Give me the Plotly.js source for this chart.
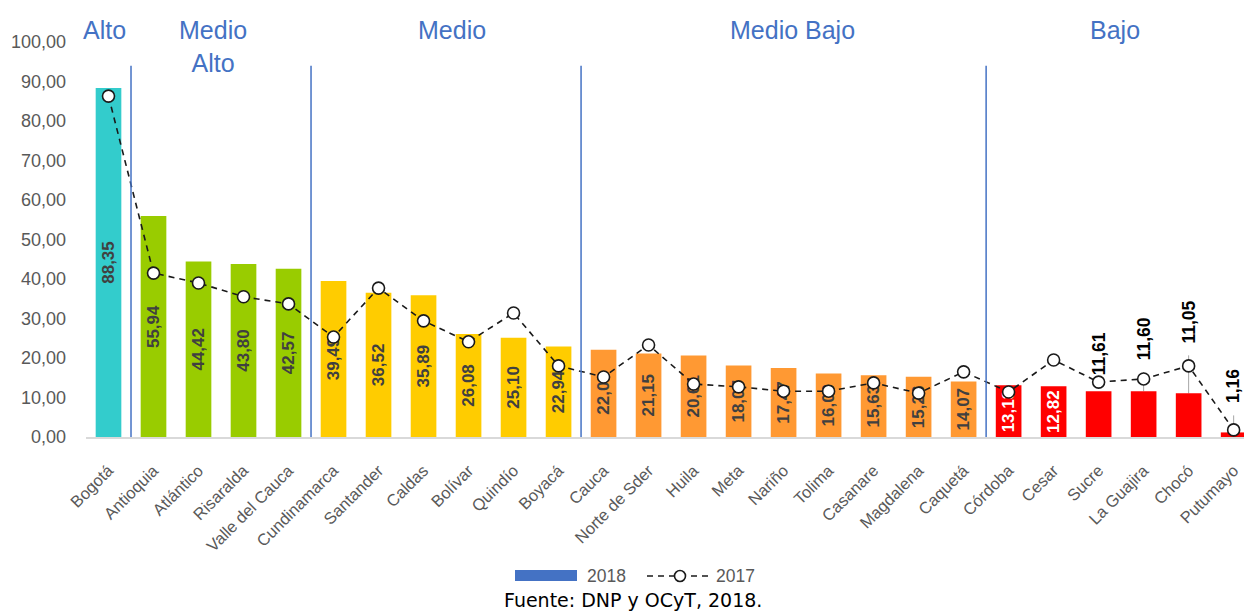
<!DOCTYPE html>
<html><head><meta charset="utf-8">
<script src="https://cdn.plot.ly/plotly-3.0.1.min.js"></script>
<style>html,body{margin:0;padding:0;background:#fff}#chart{width:1244px;height:613px}</style>
</head><body><div id="chart"></div>
<script>
const departamentos = ['Bogotá','Antioquia','Atlántico','Risaralda','Valle del Cauca','Cundinamarca','Santander','Caldas','Bolívar','Quindío','Boyacá','Cauca','Norte de Sder','Huila','Meta','Nariño','Tolima','Casanare','Magdalena','Caquetá','Córdoba','Cesar','Sucre','La Guajira','Chocó','Putumayo'];
const valores2018 = [88.35,55.94,44.42,43.80,42.57,39.49,36.52,35.89,26.08,25.10,22.94,22.06,21.15,20.61,18.07,17.47,16.09,15.63,15.26,14.07,13.13,12.82,11.61,11.60,11.05,1.16];
const valores2017 = [86.3,41.5,39.0,35.5,33.7,25.3,37.7,29.4,24.1,31.4,18.0,15.2,23.3,13.4,12.7,11.6,11.6,13.7,11.1,16.5,11.4,19.5,13.9,14.7,18.0,1.8];
const nivel = ['Alto','Medio Alto','Medio Alto','Medio Alto','Medio Alto','Medio','Medio','Medio','Medio','Medio','Medio','Medio Bajo','Medio Bajo','Medio Bajo','Medio Bajo','Medio Bajo','Medio Bajo','Medio Bajo','Medio Bajo','Medio Bajo','Bajo','Bajo','Bajo','Bajo','Bajo','Bajo'];
const nivelEtiquetas = ['Alto','Medio<br>Alto','Medio','Medio Bajo','Bajo'];
const fuente = 'Fuente: DNP y OCyT, 2018.';

const colorNivel = {'Alto':'#33CCCC','Medio Alto':'#99CC00','Medio':'#FFCC00','Medio Bajo':'#FF9933','Bajo':'#FF0000'};
const SANS = '"Liberation Sans", Arial, sans-serif';
const fmt = v => v.toFixed(2).replace('.', ',');

const outsideIdx = [22,23,24,25];
const outsideShift = [14,29,48,27];
const leader = [false,true,true,true];

const idx = departamentos.map((d,i)=>i);
const barTextPos = idx.map(i => outsideIdx.includes(i) ? 'none' : 'inside');
const barTextColor = idx.map(i => nivel[i]==='Bajo' ? '#FFFFFF' : '#404040');

const bars = {
  type:'bar', x: departamentos, y: valores2018, name:'2018',
  marker:{color: nivel.map(n=>colorNivel[n])},
  width: 0.57,
  texttemplate:'%{y:.2f}', textposition: barTextPos, textangle:-90,
  insidetextanchor:'middle', constraintext:'none', cliponaxis:false,
  textfont:{family:SANS, size:17, color: barTextColor, weight:'bold'},
  hoverinfo:'x+y', showlegend:false
};
const line = {
  type:'scatter', mode:'lines+markers', x: departamentos, y: valores2017, name:'2017',
  line:{color:'#1a1a1a', width:1.6, dash:'6px,5px'},
  marker:{size:12, color:'#FFFFFF', line:{color:'#1a1a1a', width:1.6}},
  cliponaxis:false, showlegend:false
};

const sepPos = [];
for (let i=1;i<nivel.length;i++) if (nivel[i]!==nivel[i-1]) sepPos.push(i-0.5);
const shapes = sepPos.map(p => ({type:'line', xref:'x', yref:'y', x0:p, x1:p, y0:-0.8, y1:94,
  line:{color:'#4472C4', width:1.5}}));

outsideIdx.forEach((i,k)=>{
  if (!leader[k]) return;
  shapes.push({type:'line', xref:'x', yref:'y', ysizemode:'pixel', yanchor: valores2018[i],
    x0:i, x1:i, y0:0, y1: outsideShift[k]-10, layer:'below', line:{color:'#A6A6A6', width:1}});
});

const groupX = [-0.08, 2.33, 7.63, 15.19, 22.37];
const annotations = nivelEtiquetas.map((t,k)=>({
  x: groupX[k], xref:'x', y:1.071, yref:'paper', yanchor:'top', xanchor:'center',
  text:t, showarrow:false, font:{family:SANS, size:25, color:'#4472C4'}
}));
outsideIdx.forEach((i,k)=>{
  annotations.push({x:i, xref:'x', y: valores2018[i], yref:'y', yanchor:'bottom', xanchor:'center',
    yshift: outsideShift[k], text: fmt(valores2018[i]), textangle:-90, showarrow:false,
    font:{family:SANS, size:17.5, color:'#000000', weight:'bold'}});
});

const px = v => (v-86)/1158;
const py = v => (437-v)/395;
shapes.push({type:'rect', xref:'paper', yref:'paper', x0:px(515), x1:px(577), y0:py(581), y1:py(570),
  fillcolor:'#4472C4', line:{width:0}});
shapes.push({type:'line', xref:'paper', yref:'paper', x0:px(647), x1:px(710), y0:py(576), y1:py(576),
  line:{color:'#1a1a1a', width:1.6, dash:'6px,5px'}});
shapes.push({type:'circle', xref:'paper', yref:'paper', x0:px(674.5), x1:px(685.5), y0:py(581.5), y1:py(570.5),
  fillcolor:'#FFFFFF', line:{color:'#1a1a1a', width:1.6}});
annotations.push({x:px(585), xref:'paper', y:py(576), yref:'paper', xanchor:'left', yanchor:'middle',
  text:'2018', showarrow:false, font:{family:SANS, size:17.5, color:'#595959'}});
annotations.push({x:px(714), xref:'paper', y:py(576), yref:'paper', xanchor:'left', yanchor:'middle',
  text:'2017', showarrow:false, font:{family:SANS, size:17.5, color:'#595959'}});
annotations.push({x:px(633), xref:'paper', y:py(600), yref:'paper', xanchor:'center', yanchor:'middle',
  text:fuente, showarrow:false, font:{family:'"DejaVu Sans", Verdana, sans-serif', size:19, color:'#000000'}});

const layout = {
  width:1244, height:613,
  margin:{l:86, r:0, t:42, b:176},
  paper_bgcolor:'#FFFFFF', plot_bgcolor:'#FFFFFF',
  separators:',.',
  showlegend:false,
  xaxis:{range:[-0.5, 25.23], tickangle:-45, tickfont:{family:SANS, size:16.5, color:'#595959'},
    showline:true, linecolor:'#D9D9D9', linewidth:1.5, ticks:'', showgrid:false, zeroline:false,
    ticklabelstandoff:16, fixedrange:true},
  yaxis:{range:[0,100], tickvals:[0,10,20,30,40,50,60,70,80,90,100], tickformat:'.2f',
    tickfont:{family:SANS, size:18, color:'#595959'}, showgrid:false, zeroline:false, showline:false,
    ticks:'', ticklabelstandoff:19, fixedrange:true},
  shapes: shapes,
  annotations: annotations,
  bargap:0.4
};
Plotly.newPlot('chart', [bars, line], layout, {displayModeBar:false, staticPlot:true});
</script></body></html>
